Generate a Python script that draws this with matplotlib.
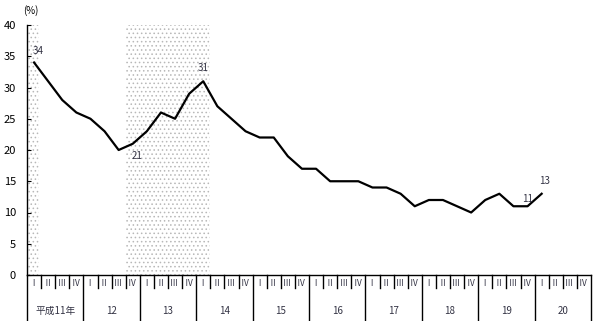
import matplotlib
matplotlib.use("Agg")
import matplotlib.pyplot as plt

plt.rcParams['font.family'] = ['Noto Sans CJK JP', 'DejaVu Sans']
plt.rcParams['hatch.color'] = '#b8b8b8'
plt.rcParams['hatch.linewidth'] = 0.6

years = ['平成11年', '12', '13', '14', '15', '16', '17', '18', '19', '20']
quarters = ['Ⅰ', 'Ⅱ', 'Ⅲ', 'Ⅳ']
values = [34, 31, 28, 26, 25, 23, 20, 21, 23, 26, 25, 29, 31, 27, 25, 23,
          22, 22, 19, 17, 17, 15, 15, 15, 14, 14, 13, 11, 12, 12, 11, 10,
          12, 13, 11, 11, 13]
# (quarter index, label text, dx, dy)
annotations = [(0, '34', 0.3, 1.8), (7, '21', 0.3, -2.0), (12, '31', 0.0, 2.1),
               (35, '11', 0.0, 1.1), (36, '13', 0.2, 2.0)]
shade_spans = [(0, 0.85), (7, 13)]

fig = plt.figure(figsize=(6.01, 3.21), dpi=100)
ax = fig.add_axes([27/601, 46/321, 564/601, 250/321])

for a, b in shade_spans:
    ax.axvspan(a, b, ymin=0, ymax=1, facecolor='white', edgecolor='#b8b8b8',
               hatch='....', linewidth=0, zorder=0)

xs = [i + 0.5 for i in range(len(values))]
ax.plot(xs, values, color='black', linewidth=1.6, zorder=3)

for i, txt, dx, dy in annotations:
    ax.text(xs[i] + dx, values[i] + dy, txt, fontsize=7, color='#333344',
            ha='center', va='center', zorder=4)

ax.set_xlim(0, 40)
ax.set_ylim(0, 40)
ax.set_yticks(range(0, 41, 5))
ax.tick_params(axis='y', direction='in', length=3, labelsize=8, pad=8)
ax.set_xticks([])
for s in ['top', 'right']:
    ax.spines[s].set_visible(False)
ax.spines['left'].set_linewidth(1)
ax.spines['bottom'].set_linewidth(1)

tr = ax.get_xaxis_transform()
y_q = -13/250
y_b = -45/250
for k in range(41):
    if k % 4 == 0:
        ax.plot([k, k], [0, y_b], color='black', lw=1, transform=tr, clip_on=False)
    else:
        ax.plot([k, k], [0, y_q], color='black', lw=1, transform=tr, clip_on=False)
for k in range(40):
    ax.text(k + 0.45, -9/250, quarters[k % 4], fontsize=6, ha='center', va='center',
            transform=tr, color='#333344')
for j, yl in enumerate(years):
    ax.text(4*j + 2, -36/250, yl, fontsize=7, ha='center', va='center',
            transform=tr, color='#333344')

fig.text(31/601, 1 - 11/321, '(%)', fontsize=7, ha='center', va='center')

fig.savefig('out.png', dpi=100)
